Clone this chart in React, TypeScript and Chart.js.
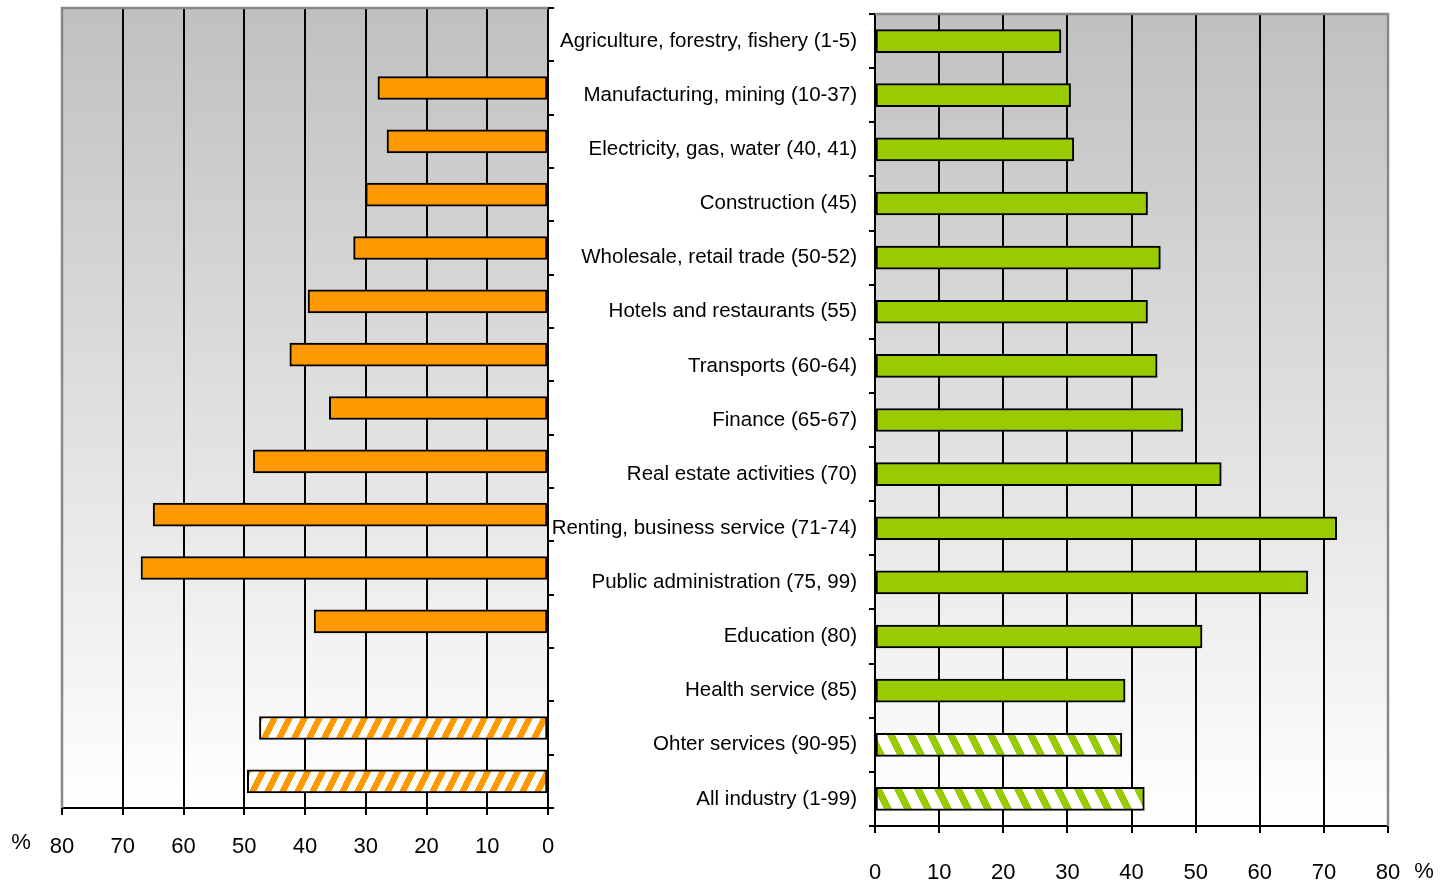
import React, { useEffect, useRef } from "react";
import { Chart, registerables } from "chart.js";

Chart.register(...registerables);

const categories = [
  "Agriculture, forestry, fishery (1-5)",
  "Manufacturing, mining (10-37)",
  "Electricity, gas, water (40, 41)",
  "Construction (45)",
  "Wholesale, retail trade (50-52)",
  "Hotels and restaurants (55)",
  "Transports (60-64)",
  "Finance (65-67)",
  "Real estate activities (70)",
  "Renting, business service (71-74)",
  "Public administration (75, 99)",
  "Education (80)",
  "Health service (85)",
  "Ohter services (90-95)",
  "All industry (1-99)",
];

const leftValues = [null, 28, 26.5, 30, 32, 39.5, 42.5, 36, 48.5, 65, 67, 38.5, null, 47.5, 49.5];
const rightValues = [29, 30.5, 31, 42.5, 44.5, 42.5, 44, 48, 54, 72, 67.5, 51, 39, 38.5, 42];
const hatchedCategories = ["Ohter services (90-95)", "All industry (1-99)"];
const xTickValues = [0, 10, 20, 30, 40, 50, 60, 70, 80];
const unitLabel = "%";

const FONT = "'Liberation Sans', Arial, sans-serif";
const W = 1441;
const H = 886;

function makeHatch(color: string, period: number, dir: number, sw: number): CanvasPattern | string {
  const c = document.createElement("canvas");
  const w = period;
  const h = period * 2;
  c.width = w;
  c.height = h;
  const ctx = c.getContext("2d");
  if (!ctx) return color;
  ctx.fillStyle = "#ffffff";
  ctx.fillRect(0, 0, w, h);
  ctx.fillStyle = color;
  for (let y = 0; y < h; y++) {
    let x0 = dir > 0 ? Math.floor(w - y / 2) : Math.floor(y / 2);
    x0 = ((x0 % w) + w) % w;
    for (let k = 0; k < sw; k++) {
      ctx.fillRect((x0 + k) % w, y, 1, 1);
    }
  }
  const p = ctx.createPattern(c, "repeat");
  return p || color;
}

function panelPlugin(side: "left" | "right", pctX: number, pctY: number) {
  return {
    id: "panel_" + side,
    beforeDraw(chart: any) {
      const { ctx, chartArea: a } = chart;
      ctx.save();
      const g = ctx.createLinearGradient(0, a.top, 0, a.bottom);
      g.addColorStop(0, "#c0c0c0");
      g.addColorStop(1, "#ffffff");
      ctx.fillStyle = g;
      ctx.fillRect(a.left, a.top, a.right - a.left, a.bottom - a.top);
      ctx.restore();
    },
    afterDatasetsDraw(chart: any) {
      const { ctx, chartArea: a } = chart;
      ctx.save();
      ctx.strokeStyle = "#888888";
      ctx.lineWidth = 2.5;
      ctx.beginPath();
      if (side === "left") {
        ctx.moveTo(a.left, a.bottom);
        ctx.lineTo(a.left, a.top);
        ctx.lineTo(a.right, a.top);
      } else {
        ctx.moveTo(a.left, a.top);
        ctx.lineTo(a.right, a.top);
        ctx.lineTo(a.right, a.bottom);
      }
      ctx.stroke();
      ctx.restore();
    },
    afterDraw(chart: any) {
      const { ctx } = chart;
      ctx.save();
      ctx.fillStyle = "#000";
      ctx.font = "22px " + FONT;
      ctx.textAlign = "center";
      ctx.textBaseline = "middle";
      ctx.fillText(unitLabel, pctX, pctY);
      ctx.restore();
    },
  };
}

export default function App() {
  const leftRef = useRef<HTMLCanvasElement>(null);
  const rightRef = useRef<HTMLCanvasElement>(null);

  useEffect(() => {
    if (!leftRef.current || !rightRef.current) return;
    const orangeHatch = makeHatch("#ff9900", 15, 1, 7);
    const greenHatch = makeHatch("#99cc00", 20, -1, 8);

    const xScaleBase = (reverse: boolean, height: number, pad: number) => ({
      type: "linear" as const,
      position: "bottom" as const,
      min: 0,
      max: 80,
      reverse,
      afterBuildTicks: (s: any) => {
        s.ticks = xTickValues.map((v) => ({ value: v }));
      },
      afterFit: (s: any) => {
        s.height = height;
      },
      grid: { color: "#000", lineWidth: 2, tickLength: 7, drawTicks: true },
      border: { color: "#000", width: 2 },
      ticks: { color: "#000", font: { family: FONT, size: 22 }, padding: pad, maxRotation: 0 },
    });

    const left = new Chart(leftRef.current, {
      type: "bar",
      data: {
        labels: categories,
        datasets: [
          {
            data: leftValues as any,
            backgroundColor: (c: any) =>
              hatchedCategories.includes(categories[c.dataIndex]) ? orangeHatch : "#ff9900",
            borderColor: "#000",
            borderWidth: 2,
            borderSkipped: false,
            barThickness: 23,
          },
        ],
      },
      options: {
        indexAxis: "y",
        animation: false,
        responsive: false,
        events: [],
        layout: { padding: { left: 62, top: 8, right: W - 548 - 10, bottom: H - 808 - 62 } },
        plugins: { legend: { display: false }, tooltip: { enabled: false } },
        scales: {
          x: xScaleBase(true, 62, 19) as any,
          y: {
            position: "right",
            afterFit: (s: any) => {
              s.width = 10;
              s.paddingTop = 0;
              s.paddingBottom = 0;
            },
            grid: { drawOnChartArea: false, color: "#000", lineWidth: 2, tickLength: 6 },
            border: { color: "#000", width: 2 },
            ticks: { display: false },
          },
        },
      },
      plugins: [panelPlugin("left", 21, 843)],
    });

    const right = new Chart(rightRef.current, {
      type: "bar",
      data: {
        labels: categories,
        datasets: [
          {
            data: rightValues,
            backgroundColor: (c: any) =>
              hatchedCategories.includes(categories[c.dataIndex]) ? greenHatch : "#99cc00",
            borderColor: "#000",
            borderWidth: 2,
            borderSkipped: false,
            barThickness: 23,
          },
        ],
      },
      options: {
        indexAxis: "y",
        animation: false,
        responsive: false,
        events: [],
        layout: { padding: { left: 0, top: 14, right: W - 1388, bottom: H - 826 - 58 } },
        plugins: { legend: { display: false }, tooltip: { enabled: false } },
        scales: {
          x: xScaleBase(false, 58, 27) as any,
          y: {
            position: "left",
            afterFit: (s: any) => {
              s.width = 875;
              s.paddingTop = 0;
              s.paddingBottom = 0;
            },
            grid: { drawOnChartArea: false, color: "#000", lineWidth: 2, tickLength: 6 },
            border: { color: "#000", width: 2 },
            ticks: { color: "#000", font: { family: FONT, size: 20.5 }, padding: 12, autoSkip: false },
          },
        },
      },
      plugins: [panelPlugin("right", 1424, 872)],
    });

    return () => {
      left.destroy();
      right.destroy();
    };
  }, []);

  const canvasStyle: React.CSSProperties = {
    position: "absolute",
    left: 0,
    top: 0,
    width: W,
    height: H,
  };

  return (
    <div style={{ position: "absolute", left: 0, top: 0, width: W, height: H, background: "#fff" }}>
      <canvas ref={leftRef} width={W} height={H} style={canvasStyle} />
      <canvas ref={rightRef} width={W} height={H} style={canvasStyle} />
    </div>
  );
}
